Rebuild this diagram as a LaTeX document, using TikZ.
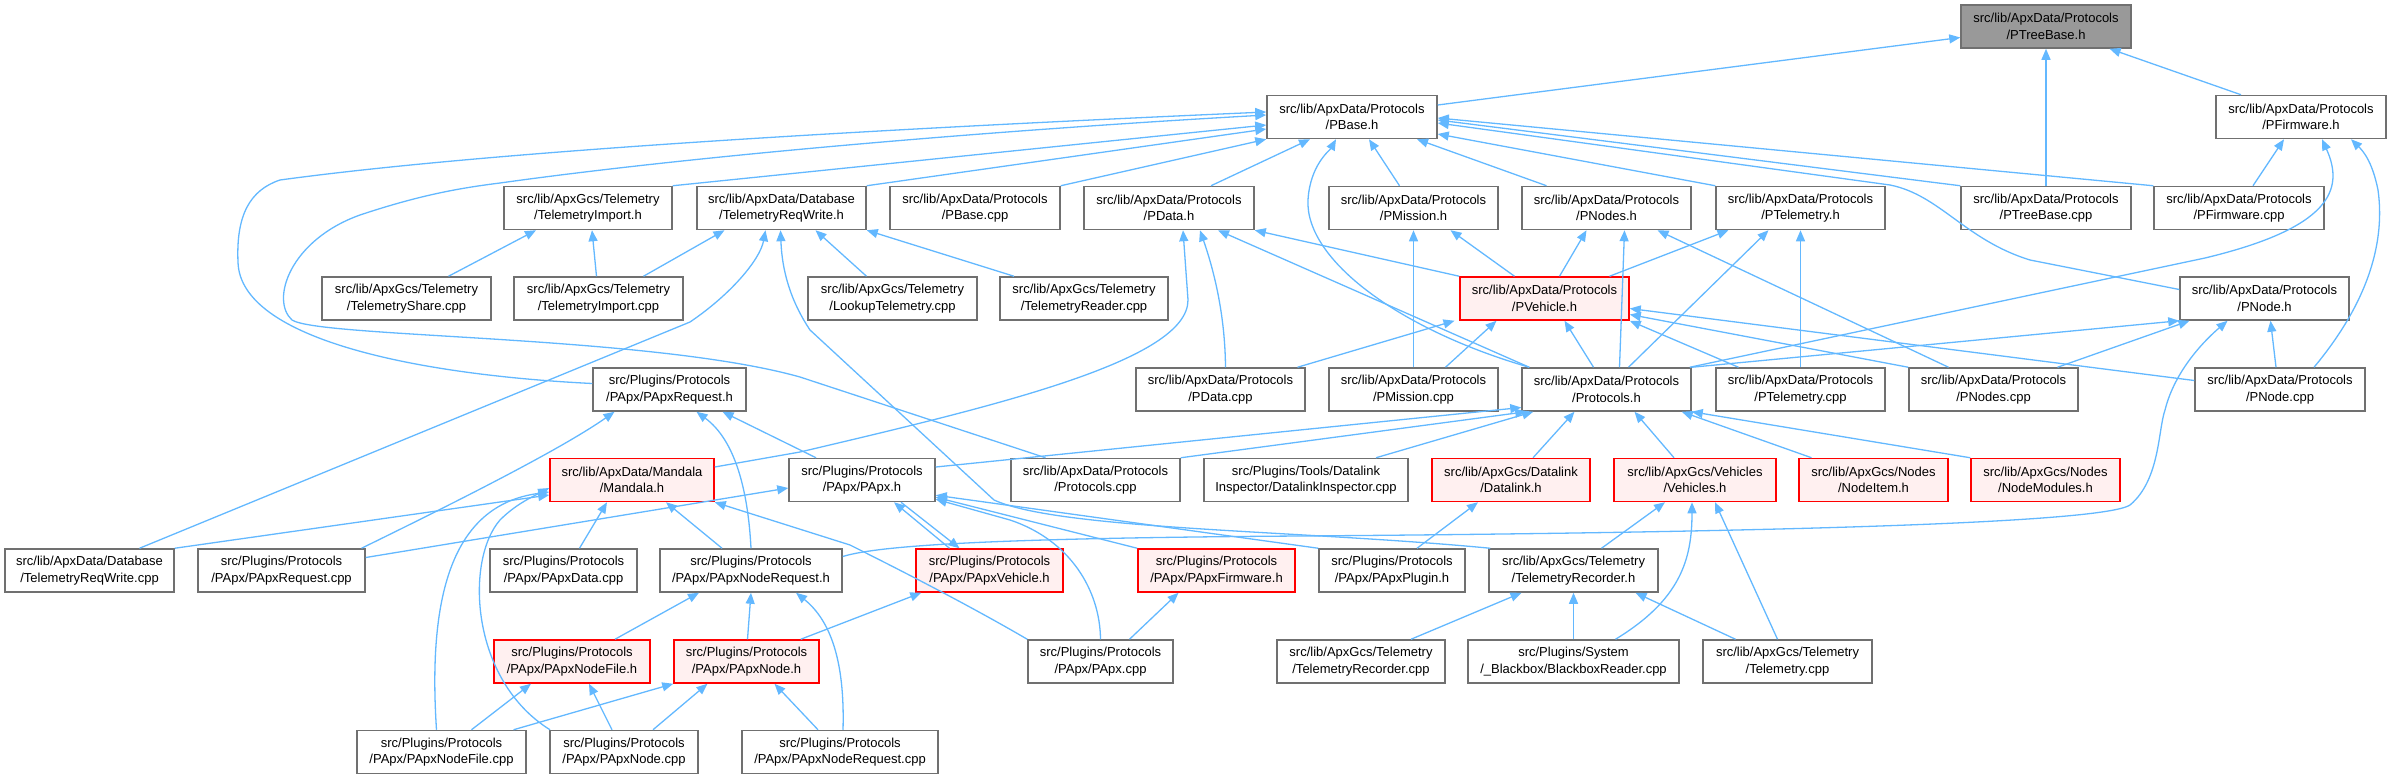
\documentclass[tikz,border=0pt]{standalone}
\usepackage{fontspec}
\setmainfont{Liberation Sans}
\usetikzlibrary{arrows.meta}
\definecolor{depblue}{HTML}{63B8FF}
\definecolor{boxgray}{HTML}{707070}
\definecolor{rootgray}{HTML}{999999}
\definecolor{redfill}{HTML}{FFF0F0}
\begin{document}
\begin{tikzpicture}[x=1pt, y=-1pt,
  incfile/.style={draw=boxgray, line width=1.5pt, fill=white, minimum height=43pt,
    inner sep=0pt, align=center, font=\fontsize{13}{16.5}\selectfont},
  rootfile/.style={incfile, fill=rootgray},
  redfile/.style={incfile, draw=red, fill=redfill},
  dep/.style={draw=depblue, line width=1.3pt, -{Triangle[length=11pt,width=9pt]}}]
  \useasboundingbox (0,0) rectangle (2391,779);

  % Files, row by row
  \node[rootfile, minimum width=170pt] (ptreebaseh) at (2046,26.5) {src/lib/ApxData/Protocols\\/PTreeBase.h};

  \node[incfile, minimum width=170pt] (pbaseh) at (1352,117) {src/lib/ApxData/Protocols\\/PBase.h};
  \node[incfile, minimum width=170pt] (pfirmwareh) at (2301,117) {src/lib/ApxData/Protocols\\/PFirmware.h};

  \node[incfile, minimum width=168pt] (telimporth) at (588,208) {src/lib/ApxGcs/Telemetry\\/TelemetryImport.h};
  \node[incfile, minimum width=169pt] (telreqwriteh) at (781.5,208) {src/lib/ApxData/Database\\/TelemetryReqWrite.h};
  \node[incfile, minimum width=170pt] (pbasecpp) at (975,208) {src/lib/ApxData/Protocols\\/PBase.cpp};
  \node[incfile, minimum width=170pt] (pdatah) at (1169,208) {src/lib/ApxData/Protocols\\/PData.h};
  \node[incfile, minimum width=169pt] (pmissionh) at (1413.5,208) {src/lib/ApxData/Protocols\\/PMission.h};
  \node[incfile, minimum width=169pt] (pnodesh) at (1606.5,208) {src/lib/ApxData/Protocols\\/PNodes.h};
  \node[incfile, minimum width=169pt] (ptelemetryh) at (1800.5,208) {src/lib/ApxData/Protocols\\/PTelemetry.h};
  \node[incfile, minimum width=170pt] (ptreebasecpp) at (2046,208) {src/lib/ApxData/Protocols\\/PTreeBase.cpp};
  \node[incfile, minimum width=170pt] (pfirmwarecpp) at (2239,208) {src/lib/ApxData/Protocols\\/PFirmware.cpp};

  \node[incfile, minimum width=169pt] (telsharecpp) at (406.5,298.5) {src/lib/ApxGcs/Telemetry\\/TelemetryShare.cpp};
  \node[incfile, minimum width=169pt] (telimportcpp) at (598.5,298.5) {src/lib/ApxGcs/Telemetry\\/TelemetryImport.cpp};
  \node[incfile, minimum width=169pt] (lookupcpp) at (892.5,298.5) {src/lib/ApxGcs/Telemetry\\/LookupTelemetry.cpp};
  \node[incfile, minimum width=168pt] (telreadercpp) at (1084,298.5) {src/lib/ApxGcs/Telemetry\\/TelemetryReader.cpp};
  \node[redfile, minimum width=169pt] (pvehicleh) at (1544.5,298.5) {src/lib/ApxData/Protocols\\/PVehicle.h};
  \node[incfile, minimum width=169pt] (pnodeh) at (2264.5,298.5) {src/lib/ApxData/Protocols\\/PNode.h};

  \node[incfile, minimum width=153pt] (papxrequesth) at (669.5,389.5) {src/Plugins/Protocols\\/PApx/PApxRequest.h};
  \node[incfile, minimum width=169pt] (pdatacpp) at (1220.5,389.5) {src/lib/ApxData/Protocols\\/PData.cpp};
  \node[incfile, minimum width=169pt] (pmissioncpp) at (1413.5,389.5) {src/lib/ApxData/Protocols\\/PMission.cpp};
  \node[incfile, minimum width=169pt] (protocolsh) at (1606.5,389.5) {src/lib/ApxData/Protocols\\/Protocols.h};
  \node[incfile, minimum width=169pt] (ptelemetrycpp) at (1800.5,389.5) {src/lib/ApxData/Protocols\\/PTelemetry.cpp};
  \node[incfile, minimum width=169pt] (pnodescpp) at (1993.5,389.5) {src/lib/ApxData/Protocols\\/PNodes.cpp};
  \node[incfile, minimum width=170pt] (pnodecpp) at (2280,389.5) {src/lib/ApxData/Protocols\\/PNode.cpp};

  \node[redfile, minimum width=164pt] (mandalah) at (632,480) {src/lib/ApxData/Mandala\\/Mandala.h};
  \node[incfile, minimum width=146pt] (papxh) at (862,480) {src/Plugins/Protocols\\/PApx/PApx.h};
  \node[incfile, minimum width=169pt] (protocolscpp) at (1095.5,480) {src/lib/ApxData/Protocols\\/Protocols.cpp};
  \node[incfile, minimum width=204pt] (dlinspectorcpp) at (1306,480) {src/Plugins/Tools/Datalink\\Inspector/DatalinkInspector.cpp};
  \node[redfile, minimum width=158pt] (datalinkh) at (1511,480) {src/lib/ApxGcs/Datalink\\/Datalink.h};
  \node[redfile, minimum width=162pt] (vehiclesh) at (1695,480) {src/lib/ApxGcs/Vehicles\\/Vehicles.h};
  \node[redfile, minimum width=149pt] (nodeitemh) at (1873.5,480) {src/lib/ApxGcs/Nodes\\/NodeItem.h};
  \node[redfile, minimum width=149pt] (nodemodulesh) at (2045.5,480) {src/lib/ApxGcs/Nodes\\/NodeModules.h};

  \node[incfile, minimum width=169pt] (telreqwritecpp) at (89.5,570.5) {src/lib/ApxData/Database\\/TelemetryReqWrite.cpp};
  \node[incfile, minimum width=167pt] (papxrequestcpp) at (281.5,570.5) {src/Plugins/Protocols\\/PApx/PApxRequest.cpp};
  \node[incfile, minimum width=147pt] (papxdatacpp) at (563.5,570.5) {src/Plugins/Protocols\\/PApx/PApxData.cpp};
  \node[incfile, minimum width=182pt] (papxnodereqh) at (751,570.5) {src/Plugins/Protocols\\/PApx/PApxNodeRequest.h};
  \node[redfile, minimum width=147pt] (papxvehicleh) at (989.5,570.5) {src/Plugins/Protocols\\/PApx/PApxVehicle.h};
  \node[redfile, minimum width=157pt] (papxfirmwareh) at (1216.5,570.5) {src/Plugins/Protocols\\/PApx/PApxFirmware.h};
  \node[incfile, minimum width=146pt] (papxpluginh) at (1392,570.5) {src/Plugins/Protocols\\/PApx/PApxPlugin.h};
  \node[incfile, minimum width=169pt] (telrecorderh) at (1573.5,570.5) {src/lib/ApxGcs/Telemetry\\/TelemetryRecorder.h};

  \node[redfile, minimum width=156pt] (papxnodefileh) at (572,661.5) {src/Plugins/Protocols\\/PApx/PApxNodeFile.h};
  \node[redfile, minimum width=145pt] (papxnodeh) at (746.5,661.5) {src/Plugins/Protocols\\/PApx/PApxNode.h};
  \node[incfile, minimum width=145pt] (papxcpp) at (1100.5,661.5) {src/Plugins/Protocols\\/PApx/PApx.cpp};
  \node[incfile, minimum width=168pt] (telrecordercpp) at (1361,661.5) {src/lib/ApxGcs/Telemetry\\/TelemetryRecorder.cpp};
  \node[incfile, minimum width=211pt] (blackboxcpp) at (1573.5,661.5) {src/Plugins/System\\/\_Blackbox/BlackboxReader.cpp};
  \node[incfile, minimum width=169pt] (telemetrycpp) at (1787.5,661.5) {src/lib/ApxGcs/Telemetry\\/Telemetry.cpp};

  \node[incfile, minimum width=169pt] (papxnodefilecpp) at (441.5,752) {src/Plugins/Protocols\\/PApx/PApxNodeFile.cpp};
  \node[incfile, minimum width=148pt] (papxnodecpp) at (624,752) {src/Plugins/Protocols\\/PApx/PApxNode.cpp};
  \node[incfile, minimum width=196pt] (papxnodereqcpp) at (840,752) {src/Plugins/Protocols\\/PApx/PApxNodeRequest.cpp};

  % PTreeBase.h and PFirmware.h
  \draw[dep] ([yshift=12]pbaseh.east) -- (ptreebaseh);
  \draw[dep] (ptreebasecpp) -- (ptreebaseh);
  \draw[dep] ([xshift=-60]pfirmwareh.north) -- (ptreebaseh);
  \draw[dep] ([xshift=14]pfirmwarecpp.north) -- ([xshift=-17]pfirmwareh.south);
  \draw[dep] ([xshift=-2]protocolsh.north east) -- (2205,258) .. controls (2330,228) and (2345,190) .. ([xshift=21]pfirmwareh.south);
  \draw[dep] ([xshift=34]pnodecpp.north) .. controls (2370,300) and (2385,240) .. (2378,190) .. controls (2372,160) and (2362,150) .. ([xshift=50]pfirmwareh.south);

  % PBase.h
  \draw[dep] (telimporth.north east) -- ([yshift=-8]pbaseh.west);
  \draw[dep] (telreqwriteh.north east) -- ([yshift=-12]pbaseh.west);
  \draw[dep] (pbasecpp.north east) -- (pbaseh.south west);
  \draw[dep] ([xshift=42]pdatah.north) -- ([xshift=-42]pbaseh.south);
  \draw[dep] ([xshift=-14]pmissionh.north) -- ([xshift=17]pbaseh.south);
  \draw[dep] ([xshift=-60]pnodesh.north) -- ([xshift=65]pbaseh.south);
  \draw[dep] (ptelemetryh.north west) -- ([yshift=-17]pbaseh.east);
  \draw[dep] (ptreebasecpp.north west) -- ([yshift=-3]pbaseh.east);
  \draw[dep] (pfirmwarecpp.north west) -- ([yshift=-1]pbaseh.east);
  \draw[dep] ([yshift=9]pnodeh.west) -- (2030,260) .. controls (1965,240) and (1940,195) .. (1890,185) -- ([yshift=-6]pbaseh.east);
  \draw[dep] ([xshift=8]protocolsh.north west) .. controls (1400,330) and (1305,260) .. (1308,200) .. controls (1310,165) and (1330,150) .. ([xshift=-16]pbaseh.south);
  \draw[dep] ([yshift=6]papxrequesth.west) .. controls (420,375) and (240,340) .. (238,262) .. controls (236,215) and (250,190) .. (280,180) .. controls (500,150) and (900,128) .. ([yshift=5]pbaseh.west);
  \draw[dep] ([xshift=-50]protocolscpp.north) -- (800,377) .. controls (650,335) and (320,338) .. (292,320) .. controls (270,300) and (290,240) .. (360,215) .. controls (420,195) and (460,188) .. (500,183) .. controls (700,155) and (1000,130) .. ([yshift=2]pbaseh.west);

  % TelemetryImport.h and TelemetryReqWrite.h
  \draw[dep] ([xshift=42]telsharecpp.north) -- ([xshift=-52]telimporth.south);
  \draw[dep] ([xshift=-2]telimportcpp.north) -- ([xshift=4]telimporth.south);
  \draw[dep] ([xshift=45]telimportcpp.north) -- ([xshift=-57]telreqwriteh.south);
  \draw[dep] ([xshift=-26]lookupcpp.north) -- ([xshift=34]telreqwriteh.south);
  \draw[dep] ([xshift=-70]telreadercpp.north) -- (telreqwriteh.south east);
  \draw[dep] ([xshift=50]telreqwritecpp.north) -- (690,322) .. controls (730,295) and (760,260) .. ([xshift=-16]telreqwriteh.south);
  \draw[dep] ([xshift=2]telrecorderh.north west) .. controls (1300,530) and (1060,530) .. (994,500) -- (810,330) .. controls (790,300) and (782,270) .. ([xshift=-1]telreqwriteh.south);

  % PData.h, PMission.h, PNodes.h, PTelemetry.h
  \draw[dep] ([yshift=13]mandalah.east) -- (800,452) .. controls (1000,405) and (1188,360) .. (1188,300) -- ([xshift=14]pdatah.south);
  \draw[dep] ([xshift=5]pdatacpp.north) .. controls (1225,310) and (1212,265) .. ([xshift=31]pdatah.south);
  \draw[dep] ([xshift=8]protocolsh.north west) -- ([xshift=49]pdatah.south);
  \draw[dep] (pvehicleh.north west) -- (pdatah.south east);
  \draw[dep] (pmissioncpp) -- (pmissionh);
  \draw[dep] ([xshift=-30]pvehicleh.north) -- ([xshift=37]pmissionh.south);
  \draw[dep] ([xshift=15]pvehicleh.north) -- ([xshift=-20]pnodesh.south);
  \draw[dep] ([xshift=13]protocolsh.north) -- ([xshift=18]pnodesh.south);
  \draw[dep] ([xshift=-45]pnodescpp.north) -- ([xshift=51]pnodesh.south);
  \draw[dep] ([xshift=65]pvehicleh.north) -- ([xshift=-72]ptelemetryh.south);
  \draw[dep] ([xshift=22]protocolsh.north) -- ([xshift=-32]ptelemetryh.south);
  \draw[dep] (ptelemetrycpp) -- (ptelemetryh);

  % PVehicle.h
  \draw[dep] ([xshift=77]pdatacpp.north) -- ([xshift=-90]pvehicleh.south);
  \draw[dep] ([xshift=32]pmissioncpp.north) -- ([xshift=-48]pvehicleh.south);
  \draw[dep] ([xshift=-13]protocolsh.north) -- ([xshift=20]pvehicleh.south);
  \draw[dep] ([xshift=-62]ptelemetrycpp.north) -- (pvehicleh.south east);
  \draw[dep] (pnodescpp.north west) -- ([yshift=-16]pvehicleh.east);
  \draw[dep] ([yshift=9]pnodecpp.west) -- ([yshift=-10]pvehicleh.east);

  % PNode.h
  \draw[dep] (protocolsh.north east) -- (pnodeh.south west);
  \draw[dep] ([xshift=64]pnodescpp.north) -- ([xshift=-75]pnodeh.south);
  \draw[dep] ([xshift=-4]pnodecpp.north) -- ([xshift=6]pnodeh.south);
  \draw[dep] ([yshift=14]papxnodereqh.east) .. controls (880,545) and (1000,538) .. (1300,536) .. controls (1700,533) and (2100,525) .. (2130,505) .. controls (2160,480) and (2158,430) .. (2165,410) .. controls (2175,370) and (2205,340) .. ([xshift=-37]pnodeh.south);

  % PApxRequest.h and Mandala.h
  \draw[dep] ([xshift=80]papxrequestcpp.north) .. controls (450,505) and (560,450) .. ([xshift=-55]papxrequesth.south);
  \draw[dep] (papxnodereqh.north) .. controls (748,490) and (735,440) .. ([xshift=27]papxrequesth.south);
  \draw[dep] ([xshift=-46]papxh.north) -- ([xshift=53]papxrequesth.south);
  \draw[dep] (telreqwritecpp.north east) -- ([yshift=-15]mandalah.west);
  \draw[dep] ([xshift=-5]papxnodefilecpp.north) .. controls (428,600) and (450,505) .. ([yshift=-12]mandalah.west);
  \draw[dep] ([xshift=-74]papxnodecpp.north) .. controls (470,680) and (465,560) .. (500,520) .. controls (515,505) and (530,498) .. ([yshift=-8]mandalah.west);
  \draw[dep] ([xshift=16]papxdatacpp.north) -- ([xshift=-25]mandalah.south);
  \draw[dep] ([xshift=-29]papxnodereqh.north) -- ([xshift=34]mandalah.south);
  \draw[dep] (papxcpp.north west) .. controls (960,600) and (880,560) .. (850,545) -- (mandalah.south east);

  % Protocols.h
  \draw[dep] ([yshift=13]papxh.east) -- ([yshift=-18]protocolsh.west);
  \draw[dep] (protocolscpp.north east) -- ([xshift=5]protocolsh.south west);
  \draw[dep] ([xshift=70]dlinspectorcpp.north) -- ([xshift=12]protocolsh.south west);
  \draw[dep] ([xshift=22]datalinkh.north) -- ([xshift=-32]protocolsh.south);
  \draw[dep] ([xshift=-21]vehiclesh.north) -- ([xshift=28]protocolsh.south);
  \draw[dep] ([xshift=-62]nodeitemh.north) -- ([xshift=-10]protocolsh.south east);
  \draw[dep] (nodemodulesh.north west) -- (protocolsh.south east);

  % PApx.h and PApxVehicle.h
  \draw[dep] ([yshift=13]papxrequestcpp.east) -- ([yshift=-8]papxh.west);
  \draw[dep] ([xshift=-40]papxvehicleh.north) -- ([xshift=32]papxh.south);
  \draw[dep] ([xshift=39]papxh.south) -- ([xshift=-30]papxvehicleh.north);
  \draw[dep] (papxcpp.north) .. controls (1100,590) and (1070,540) .. (1010,520) -- ([yshift=3]papxh.south east);
  \draw[dep] (papxfirmwareh.north west) -- ([yshift=5]papxh.south east);
  \draw[dep] (papxpluginh.north west) -- ([yshift=7]papxh.south east);
  \draw[dep] ([xshift=-19]papxnodeh.north east) -- ([xshift=6]papxvehicleh.south west);
  \draw[dep] ([xshift=29]papxcpp.north) -- ([xshift=-38]papxfirmwareh.south);

  % Datalink.h, Vehicles.h, TelemetryRecorder.h
  \draw[dep] ([xshift=25]papxpluginh.north) -- ([xshift=-33]datalinkh.south);
  \draw[dep] ([xshift=28]telrecorderh.north) -- ([xshift=-30]vehiclesh.south);
  \draw[dep] ([xshift=42]blackboxcpp.north) .. controls (1680,600) and (1692,560) .. ([xshift=-3]vehiclesh.south);
  \draw[dep] ([xshift=-10]telemetrycpp.north) -- ([xshift=20]vehiclesh.south);
  \draw[dep] ([xshift=50]telrecordercpp.north) -- ([xshift=-52]telrecorderh.south);
  \draw[dep] (blackboxcpp) -- (telrecorderh);
  \draw[dep] ([xshift=-52]telemetrycpp.north) -- ([xshift=62]telrecorderh.south);

  % PApxNodeRequest.h, PApxNodeFile.h, PApxNode.h
  \draw[dep] ([xshift=43]papxnodefileh.north) -- ([xshift=-52]papxnodereqh.south);
  \draw[dep] ([xshift=1]papxnodeh.north) -- (papxnodereqh.south);
  \draw[dep] ([xshift=3]papxnodereqcpp.north) .. controls (845,660) and (830,620) .. ([xshift=45]papxnodereqh.south);
  \draw[dep] ([xshift=30]papxnodefilecpp.north) -- ([xshift=-41]papxnodefileh.south);
  \draw[dep] ([xshift=-12]papxnodecpp.north) -- ([xshift=17]papxnodefileh.south);
  \draw[dep] ([xshift=72]papxnodefilecpp.north) -- (papxnodeh.south west);
  \draw[dep] ([xshift=29]papxnodecpp.north) -- ([xshift=-39]papxnodeh.south);
  \draw[dep] ([xshift=-22]papxnodereqcpp.north) -- ([xshift=28]papxnodeh.south);
\end{tikzpicture}
\end{document}
